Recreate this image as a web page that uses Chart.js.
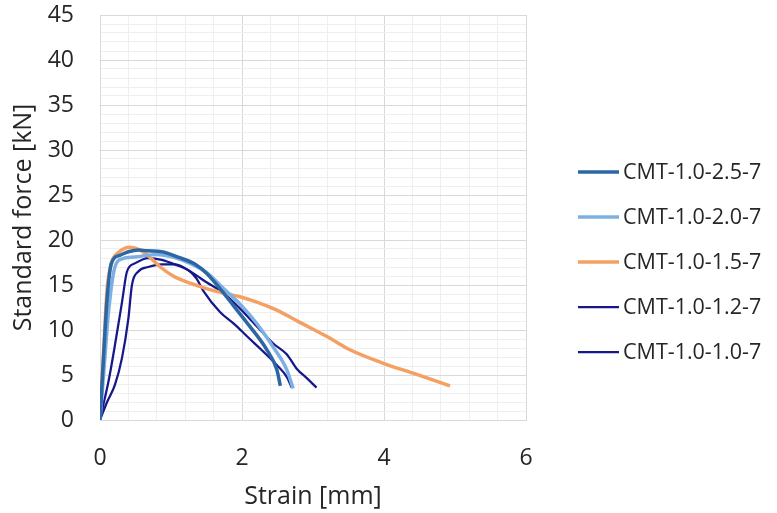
<!DOCTYPE html>
<html lang="en">
<head>
  <meta charset="UTF-8" />
  <title>Standard force vs strain</title>
  <script src="https://cdn.jsdelivr.net/npm/chart.js"></script>
  <style>
    body { margin: 0; background: #fff; }
    #wrap { width: 777px; height: 513px; }
  </style>
</head>
<body>
  <div id="wrap"><canvas id="forceChart"></canvas></div>

  <script>
    // strain [mm] / standard force [kN]
    const s25x = [0, 0.05, 0.10, 0.16, 0.28, 0.40, 0.54, 0.66, 0.87, 1.10, 1.34, 1.50, 1.71, 1.88, 2.11, 2.35, 2.49, 2.54];
    const s25y = [0, 7.0, 13.5, 17.4, 18.3, 18.7, 18.9, 18.8, 18.7, 18.1, 17.3, 16.3, 14.4, 12.7, 10.4, 7.8, 5.6, 3.8];

    const s20x = [0, 0.06, 0.12, 0.21, 0.31, 0.49, 0.80, 1.03, 1.27, 1.50, 1.74, 1.97, 2.21, 2.44, 2.63, 2.72];
    const s20y = [0, 6.0, 12.0, 17.0, 17.9, 18.1, 18.4, 18.1, 17.4, 16.4, 14.6, 12.9, 10.7, 8.1, 5.6, 3.5];

    const s15x = [0, 0.05, 0.10, 0.16, 0.26, 0.42, 0.56, 0.70, 0.85, 1.03, 1.27, 1.50, 1.74, 1.97, 2.21, 2.49, 2.80, 3.19, 3.52, 3.99, 4.41, 4.93];
    const s15y = [0, 7.5, 14.5, 17.4, 18.6, 19.2, 18.9, 18.1, 17.0, 16.0, 15.2, 14.6, 14.1, 13.7, 13.1, 12.2, 10.9, 9.3, 7.8, 6.3, 5.2, 3.8];

    const s12x = [0, 0.05, 0.12, 0.21, 0.31, 0.38, 0.49, 0.68, 0.87, 1.08, 1.27, 1.36, 1.46, 1.69, 1.90, 2.07, 2.30, 2.49, 2.63, 2.70];
    const s12y = [0, 1.8, 4.3, 8.3, 13.1, 16.5, 17.4, 18.0, 17.8, 17.2, 16.5, 15.7, 14.3, 12.0, 10.6, 9.3, 7.6, 6.1, 4.8, 3.6];

    const s10x = [0, 0.10, 0.21, 0.31, 0.40, 0.45, 0.54, 0.68, 0.87, 1.06, 1.31, 1.50, 1.74, 1.97, 2.21, 2.44, 2.63, 2.77, 2.92, 3.05];
    const s10y = [0, 2.0, 3.9, 6.9, 11.3, 15.0, 16.5, 17.0, 17.3, 17.3, 16.3, 15.3, 14.1, 12.4, 10.4, 8.5, 7.3, 5.7, 4.6, 3.6];

    const seriesNames = ['CMT-1.0-2.5-7', 'CMT-1.0-2.0-7', 'CMT-1.0-1.5-7', 'CMT-1.0-1.2-7', 'CMT-1.0-1.0-7'];
    const seriesColors = ['#2D67A3', '#7DB0E2', '#F4A063', '#17178C', '#17178C'];
    const seriesWidths = [3.5, 3.5, 3.5, 2.25, 2.25];
    const seriesX = [s25x, s20x, s15x, s12x, s10x];
    const seriesY = [s25y, s20y, s15y, s12y, s10y];

    const xMajor = 2, yMajor = 5;
    const textColor = '#262626';
    const fontFamily = 'Open Sans';

    function isMajor(v, step) {
      return Math.abs(v / step - Math.round(v / step)) < 1e-6;
    }

    // Excel-like legend: short line sample + label, stacked on the right
    const sideLegend = {
      id: 'sideLegend',
      afterDraw(chart) {
        const ctx = chart.ctx;
        const x0 = chart.chartArea.right + 52;
        const lineLen = 41;
        const rowGap = 45;
        const y0 = 172;
        ctx.save();
        ctx.font = '21.5px "' + fontFamily + '"';
        ctx.textBaseline = 'middle';
        ctx.fillStyle = textColor;
        chart.data.datasets.forEach((ds, i) => {
          const y = y0 + i * rowGap;
          ctx.beginPath();
          ctx.strokeStyle = ds.borderColor;
          ctx.lineWidth = ds.borderWidth;
          ctx.moveTo(x0, y);
          ctx.lineTo(x0 + lineLen, y);
          ctx.stroke();
          ctx.fillText(ds.label, x0 + lineLen + 4, y + 1);
        });
        ctx.restore();
      }
    };

    const datasets = seriesNames.map((name, i) => ({
      label: name,
      data: seriesX[i].map((x, j) => ({ x: x, y: seriesY[i][j] })),
      borderColor: seriesColors[i],
      backgroundColor: seriesColors[i],
      borderWidth: seriesWidths[i],
      pointRadius: 0,
      cubicInterpolationMode: 'monotone',
      fill: false
    }));

    new Chart(document.getElementById('forceChart'), {
      type: 'scatter',
      data: { datasets: datasets },
      plugins: [sideLegend],
      options: {
        responsive: true,
        maintainAspectRatio: false,
        animation: false,
        showLine: true,
        layout: { padding: { top: 15, right: 251, left: 0, bottom: 0 } },
        plugins: {
          tooltip: { enabled: false },
          legend: { display: false }
        },
        scales: {
          x: {
            min: 0, max: 6,
            border: { color: '#d9d9d9' },
            grid: {
              drawTicks: false,
              color: ctx => isMajor(ctx.tick.value, xMajor) ? '#d9d9d9' : '#efefef'
            },
            ticks: {
              stepSize: 0.4,
              autoSkip: false,
              maxRotation: 0,
              padding: 25,
              color: textColor,
              font: { family: fontFamily, size: 23 },
              callback: v => isMajor(v, xMajor) ? Math.round(v) : ''
            },
            title: {
              display: true, text: 'Strain [mm]', color: textColor,
              font: { family: fontFamily, size: 25 },
              padding: { top: 8, bottom: 1 }
            },
            afterFit: scale => { scale.height = 93; }
          },
          y: {
            min: 0, max: 45,
            border: { color: '#d9d9d9' },
            grid: {
              drawTicks: false,
              color: ctx => isMajor(ctx.tick.value, yMajor) ? '#d9d9d9' : '#efefef'
            },
            ticks: {
              stepSize: 1,
              autoSkip: false,
              padding: 26,
              color: textColor,
              font: { family: fontFamily, size: 23 },
              callback: v => isMajor(v, yMajor) ? v : ''
            },
            title: {
              display: true, text: 'Standard force [kN]', color: textColor,
              font: { family: fontFamily, size: 25 },
              padding: { top: 9, bottom: 9 }
            },
            afterFit: scale => {
              scale.width = 100;
              scale.paddingTop = 0;
              scale.paddingBottom = 0;
            }
          }
        }
      }
    });
  </script>
</body>
</html>
